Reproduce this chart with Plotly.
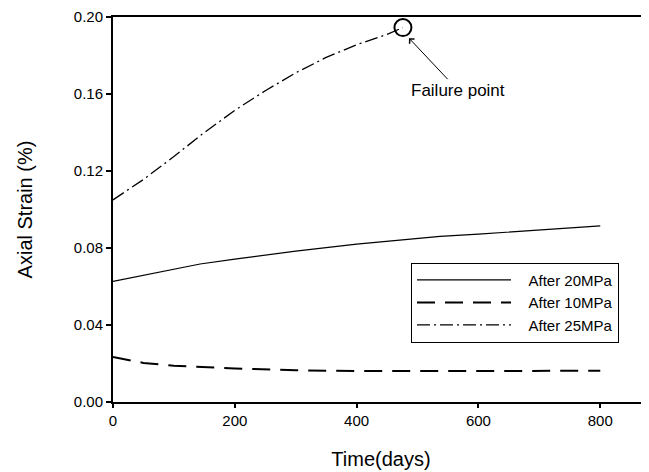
import plotly.graph_objects as go

# ---- data ----
t_20 = [0, 50, 100, 143, 200, 300, 400, 500, 537, 600, 700, 800]
e_20 = [0.0627, 0.0658, 0.0688, 0.0717, 0.0742, 0.0784, 0.0820, 0.0850, 0.0860, 0.0872, 0.0895, 0.0915]

t_10 = [0, 50, 100, 150, 200, 300, 400, 500, 600, 700, 800]
e_10 = [0.0234, 0.0203, 0.0188, 0.0180, 0.0174, 0.0165, 0.0161, 0.0161, 0.0162, 0.0162, 0.0162]

t_25 = [0, 50, 100, 150, 200, 250, 300, 350, 400, 450, 476]
e_25 = [0.105, 0.1156, 0.1275, 0.1400, 0.1515, 0.1617, 0.1710, 0.1790, 0.1856, 0.1910, 0.1945]

failure_t = [476]
failure_e = [0.1945]

series_names = ["After 20MPa", "After 10MPa", "After 25MPa"]
x_ticks = [0, 200, 400, 600, 800]
y_ticks = [0.00, 0.04, 0.08, 0.12, 0.16, 0.20]

FONT = "Liberation Sans, Arial, sans-serif"
PAD = "\u00a0\u00a0\u00a0"

fig = go.Figure()
fig.add_trace(go.Scatter(x=t_20, y=e_20, mode="lines", name=PAD + series_names[0],
                         line=dict(color="black", width=1.2, dash="solid")))
fig.add_trace(go.Scatter(x=t_10, y=e_10, mode="lines", name=PAD + series_names[1],
                         line=dict(color="black", width=2, dash="18px,10px")))
fig.add_trace(go.Scatter(x=t_25, y=e_25, mode="lines", name=PAD + series_names[2],
                         line=dict(color="black", width=1.3, dash="13px,4px,2px,4px")))
fig.add_trace(go.Scatter(x=failure_t, y=failure_e, mode="markers", showlegend=False,
                         marker=dict(symbol="circle-open", size=17, color="black",
                                     line=dict(width=2, color="black"))))

fig.add_annotation(x=486, y=0.189, xref="x", yref="y", text="Failure point",
                   showarrow=True, arrowhead=4, arrowsize=1.3, arrowwidth=1,
                   arrowcolor="black", ax=49, ay=52,
                   font=dict(family=FONT, size=17, color="black"))

# the page adds an 8px body margin, so the figure is 8px smaller and margins compensate
fig.update_layout(
    width=641, height=464,
    margin=dict(l=105, r=0, t=7, b=70),
    paper_bgcolor="white", plot_bgcolor="white",
    font=dict(family=FONT, size=15, color="black"),
    showlegend=True,
    legend=dict(x=0.556, y=0.362, xanchor="left", yanchor="top",
                bordercolor="black", borderwidth=1, bgcolor="white",
                itemwidth=94, font=dict(family=FONT, size=15, color="black")),
    xaxis=dict(range=[0, 880], tickvals=x_ticks, ticks="outside", ticklen=4,
               tickwidth=2, tickcolor="black", showline=True, linewidth=2,
               linecolor="black", mirror=True, showgrid=False, zeroline=False,
               ticklabeloverflow="allow",
               title=dict(text="Time(days)", font=dict(family=FONT, size=20), standoff=24),
               tickfont=dict(family=FONT, size=15)),
    yaxis=dict(range=[0, 0.2], tickvals=y_ticks, tickformat=".2f", ticks="outside",
               ticklen=5, tickwidth=2, tickcolor="black", showline=True, linewidth=2,
               linecolor="black", mirror=False, showgrid=False, zeroline=False,
               ticklabeloverflow="allow",
               title=dict(text="Axial Strain (%)", font=dict(family=FONT, size=20), standoff=36),
               tickfont=dict(family=FONT, size=15)),
)

fig.write_html("out.html")
